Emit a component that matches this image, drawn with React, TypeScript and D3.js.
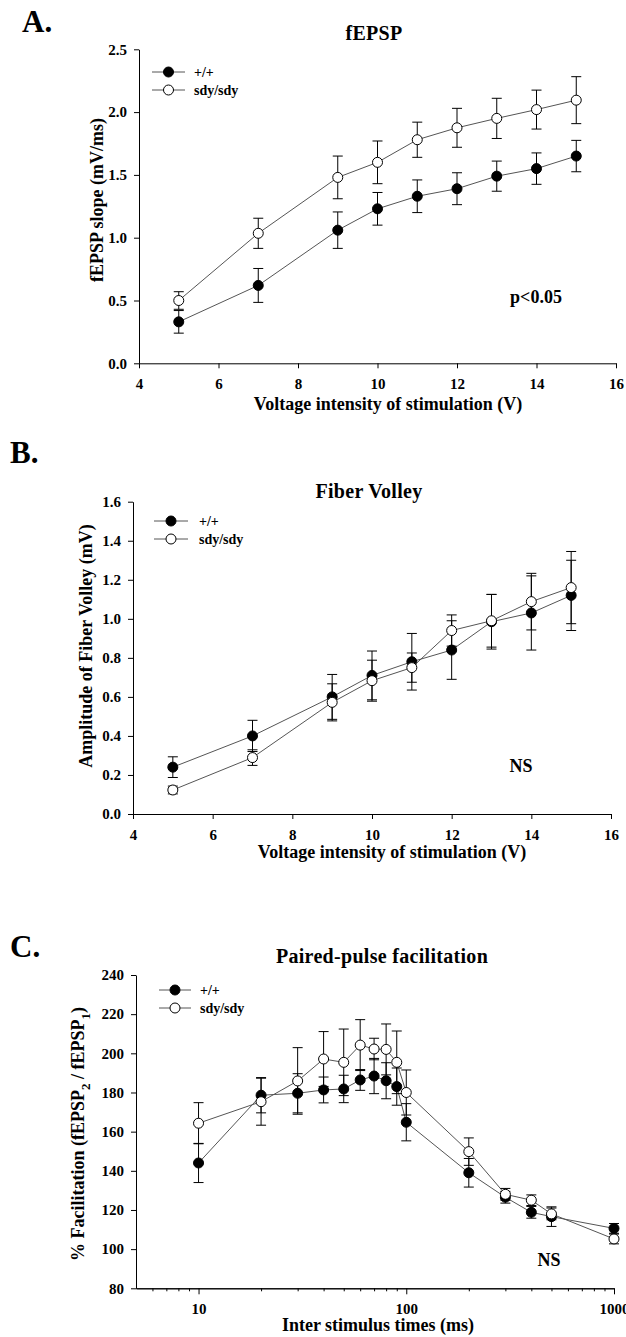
import React, { useEffect, useRef } from 'react';
import * as d3 from 'd3';

// ---- data ----
const voltage = [5, 7, 9, 10, 11, 12, 13, 14, 15];

// A. fEPSP slope (mV/ms)
const fepspWt = [0.33, 0.62, 1.06, 1.23, 1.33, 1.39, 1.49, 1.55, 1.65];
const fepspWtErr = [0.09, 0.135, 0.145, 0.13, 0.13, 0.127, 0.12, 0.125, 0.125];
const fepspSdy = [0.5, 1.035, 1.48, 1.6, 1.78, 1.875, 1.95, 2.02, 2.095];
const fepspSdyErr = [0.07, 0.12, 0.17, 0.17, 0.14, 0.155, 0.16, 0.155, 0.187];

// B. Fiber volley amplitude (mV)
const fvWt = [0.24, 0.4, 0.6, 0.71, 0.78, 0.84, 0.985, 1.03, 1.12];
const fvWtErr = [0.053, 0.08, 0.115, 0.125, 0.145, 0.15, 0.14, 0.19, 0.18];
const fvSdy = [0.123, 0.289, 0.572, 0.683, 0.75, 0.94, 0.99, 1.088, 1.16];
const fvSdyErr = [0.02, 0.04, 0.095, 0.105, 0.075, 0.08, 0.135, 0.145, 0.185];

// C. Paired-pulse facilitation (%)
const isi = [10, 20, 30, 40, 50, 60, 70, 80, 90, 100, 200, 300, 400, 500, 1000];
const ppfWt = [144, 178.6, 179.6, 181.3, 181.8, 186.4, 188.4, 186, 183, 164.8, 139, 126.5, 118.8, 116.6, 110.6];
const ppfWtErr = [10, 9, 10, 6.6, 7, 5.3, 9, 9.2, 9.5, 9.5, 7.3, 3, 3, 5, 2.5];
const ppfSdy = [164.3, 175.3, 185.9, 197.1, 195.4, 204.2, 202.2, 202, 195.4, 180, 149.8, 128, 125, 118, 105.2];
const ppfSdyErr = [10.5, 12, 17, 14, 17, 13, 5.5, 13, 16, 11.5, 7, 3, 2.7, 3, 2.5];

const voltTicks = [4, 6, 8, 10, 12, 14, 16];
const fepspTicks = [0, 0.5, 1, 1.5, 2, 2.5];
const fvTicks = [0, 0.2, 0.4, 0.6, 0.8, 1.0, 1.2, 1.4, 1.6];
const ppfTicks = [80, 100, 120, 140, 160, 180, 200, 220, 240];
const isiMajor = [10, 100, 1000];
const isiMinor = [6, 7, 8, 9, 20, 30, 40, 50, 60, 70, 80, 90, 200, 300, 400, 500, 600, 700, 800, 900];

const legendNames = ['+/+', 'sdy/sdy'];

const serif = '"Liberation Serif", "Times New Roman", serif';

function drawPanel(svg: any, cfg: any) {
  const g = svg.append('g');
  const x = cfg.log
    ? d3.scaleLog().domain(cfg.xDomain).range([cfg.left, cfg.right])
    : d3.scaleLinear().domain(cfg.xDomain).range([cfg.left, cfg.right]);
  const y = d3.scaleLinear().domain(cfg.yDomain).range([cfg.bottom, cfg.top]);

  const styleAxis = (sel: any) => {
    sel.attr('font-family', serif).attr('font-size', 15).attr('font-weight', 'bold');
    sel.selectAll('text').attr('fill', '#000');
    sel.selectAll('line').attr('stroke', '#000');
    sel.select('.domain').attr('stroke', '#000');
  };

  // x axis
  if (cfg.log) {
    g.append('g')
      .attr('transform', `translate(0,${cfg.bottom})`)
      .call(d3.axisBottom(x).tickValues(isiMinor).tickFormat(() => '').tickSize(3).tickSizeOuter(0))
      .call(styleAxis);
    g.append('g')
      .attr('transform', `translate(0,${cfg.bottom})`)
      .call(d3.axisBottom(x).tickValues(isiMajor).tickFormat(d3.format('d')).tickSize(6).tickPadding(9).tickSizeOuter(0))
      .call(styleAxis);
  } else {
    g.append('g')
      .attr('transform', `translate(0,${cfg.bottom})`)
      .call(d3.axisBottom(x).tickValues(cfg.xTicks).tickFormat(d3.format('d')).tickSize(5).tickPadding(10).tickSizeOuter(0))
      .call(styleAxis);
  }
  // y axis
  g.append('g')
    .attr('transform', `translate(${cfg.left},0)`)
    .call(d3.axisLeft(y).tickValues(cfg.yTicks).tickFormat(d3.format(cfg.yFormat)).tickSize(5).tickPadding(7).tickSizeOuter(0))
    .call(styleAxis);

  const line = d3.line<number>()
    .x((d, i) => x(cfg.xs[i]))
    .y((d) => y(d));

  cfg.series.forEach((s: any) => {
    const sg = g.append('g');
    sg.append('path')
      .attr('d', line(s.vals))
      .attr('fill', 'none')
      .attr('stroke', '#555')
      .attr('stroke-width', 1);
    s.vals.forEach((v: number, i: number) => {
      const cx = x(cfg.xs[i]);
      const y1 = y(v + s.err[i]);
      const y2 = y(v - s.err[i]);
      sg.append('line').attr('x1', cx).attr('x2', cx).attr('y1', y1).attr('y2', y2).attr('stroke', '#000');
      sg.append('line').attr('x1', cx - 5).attr('x2', cx + 5).attr('y1', y1).attr('y2', y1).attr('stroke', '#000');
      sg.append('line').attr('x1', cx - 5).attr('x2', cx + 5).attr('y1', y2).attr('y2', y2).attr('stroke', '#000');
    });
    sg.selectAll('circle')
      .data(s.vals)
      .enter()
      .append('circle')
      .attr('cx', (d: number, i: number) => x(cfg.xs[i]))
      .attr('cy', (d: number) => y(d))
      .attr('r', 5)
      .attr('fill', s.filled ? '#000' : '#fff')
      .attr('stroke', '#000')
      .attr('stroke-width', 1);
  });

  // legend
  const lg = g.append('g');
  legendNames.forEach((name, i) => {
    const ly = cfg.legend.ys[i];
    lg.append('line').attr('x1', cfg.legend.x0).attr('x2', cfg.legend.x1).attr('y1', ly).attr('y2', ly).attr('stroke', '#555');
    lg.append('circle')
      .attr('cx', (cfg.legend.x0 + cfg.legend.x1) / 2)
      .attr('cy', ly)
      .attr('r', 5)
      .attr('fill', i === 0 ? '#000' : '#fff')
      .attr('stroke', '#000');
    lg.append('text')
      .attr('x', cfg.legend.tx)
      .attr('y', ly + 5)
      .attr('font-family', serif)
      .attr('font-size', 14)
      .attr('font-weight', 'bold')
      .text(name);
  });

  const txt = (tx: number, ty: number, s: string, size: number, anchor = 'middle') =>
    g.append('text')
      .attr('x', tx)
      .attr('y', ty)
      .attr('text-anchor', anchor)
      .attr('font-family', serif)
      .attr('font-size', size)
      .attr('font-weight', 'bold')
      .text(s);

  txt(cfg.letter[0], cfg.letter[1], cfg.letter[2], 31, 'start');
  txt(cfg.title[0], cfg.title[1], cfg.title[2], 20).attr('letter-spacing', 0.3);
  txt(cfg.note[0], cfg.note[1], cfg.note[2], 18);
  txt(cfg.xLabel[0], cfg.xLabel[1], cfg.xLabel[2], 18);

  const yl = g.append('text')
    .attr('transform', `translate(${cfg.yLabel[0]},${cfg.yLabel[1]}) rotate(-90)`)
    .attr('text-anchor', 'middle')
    .attr('dominant-baseline', 'central')
    .attr('font-family', serif)
    .attr('font-size', 18)
    .attr('font-weight', 'bold');
  cfg.yLabel[2].forEach((part: any) => {
    const t = yl.append('tspan').text(part.t);
    if (part.sub) t.attr('baseline-shift', 'sub').attr('font-size', 13);
  });
}

export default function App() {
  const ref = useRef<SVGSVGElement>(null);

  useEffect(() => {
    const svg = d3.select(ref.current);
    svg.selectAll('*').remove();

    drawPanel(svg, {
      left: 139, right: 616, top: 49.3, bottom: 363.3,
      xDomain: [4, 16], yDomain: [0, 2.5], xTicks: voltTicks, yTicks: fepspTicks, yFormat: '.1f',
      xs: voltage,
      series: [
        { vals: fepspWt, err: fepspWtErr, filled: true },
        { vals: fepspSdy, err: fepspSdyErr, filled: false },
      ],
      legend: { x0: 152, x1: 185, tx: 194, ys: [72, 90] },
      letter: [22, 32, 'A.'],
      title: [374, 40, 'fEPSP'],
      note: [536, 303, 'p<0.05'],
      xLabel: [388, 410, 'Voltage intensity of stimulation (V)'],
      yLabel: [97, 200, [{ t: 'fEPSP slope (mV/ms)' }]],
    });

    drawPanel(svg, {
      left: 133, right: 611, top: 501.7, bottom: 814,
      xDomain: [4, 16], yDomain: [0, 1.6], xTicks: voltTicks, yTicks: fvTicks, yFormat: '.1f',
      xs: voltage,
      series: [
        { vals: fvWt, err: fvWtErr, filled: true },
        { vals: fvSdy, err: fvSdyErr, filled: false },
      ],
      legend: { x0: 154, x1: 188, tx: 199, ys: [521, 539] },
      letter: [10, 463, 'B.'],
      title: [369, 498, 'Fiber Volley'],
      note: [521, 772, 'NS'],
      xLabel: [392, 858, 'Voltage intensity of stimulation (V)'],
      yLabel: [86, 646, [{ t: 'Amplitude of Fiber Volley (mV)' }]],
    });

    drawPanel(svg, {
      log: true,
      left: 136, right: 614, top: 975, bottom: 1288.3,
      xDomain: [5, 1000], yDomain: [80, 240], yTicks: ppfTicks, yFormat: 'd',
      xs: isi,
      series: [
        { vals: ppfWt, err: ppfWtErr, filled: true },
        { vals: ppfSdy, err: ppfSdyErr, filled: false },
      ],
      legend: { x0: 159, x1: 191, tx: 200, ys: [990, 1008] },
      letter: [10, 957, 'C.'],
      title: [382, 963, 'Paired-pulse facilitation'],
      note: [549, 1266, 'NS'],
      xLabel: [378, 1331, 'Inter stimulus times (ms)'],
      yLabel: [78, 1134, [
        { t: '% Facilitation (fEPSP' }, { t: '2', sub: true }, { t: ' / fEPSP' }, { t: '1', sub: true }, { t: ')' },
      ]],
    });
  }, []);

  return (
    <svg
      ref={ref}
      width={626}
      height={1337}
      style={{ position: 'absolute', left: 0, top: 0, background: '#fff' }}
    />
  );
}
